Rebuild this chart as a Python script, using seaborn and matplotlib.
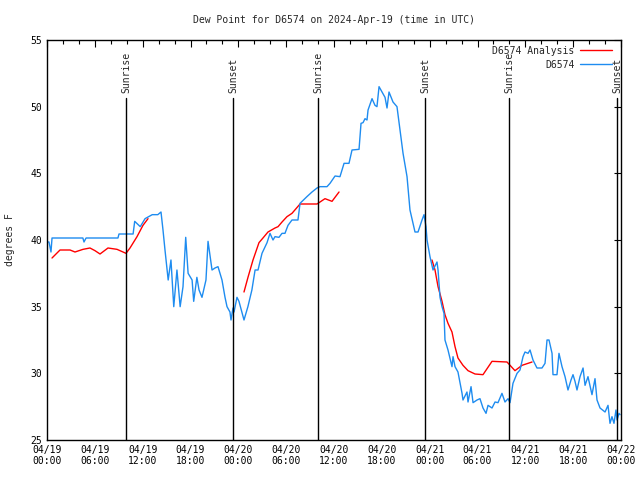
import numpy as np
import pandas as pd
import seaborn as sns
import matplotlib
matplotlib.use("Agg")
import matplotlib.pyplot as plt
import matplotlib.dates as mdates
from matplotlib.lines import Line2D

# Observed dew point (hours since 2024-04-19 00:00 UTC, degrees F)
obs_hours = [0.0, 0.25, 0.5, 0.63, 4.5, 4.64, 4.9, 8.9, 9.03, 10.8, 11.0, 11.7, 12.3, 12.9,
             13.2, 13.9, 14.3, 14.55, 14.8, 15.2, 15.55, 15.9, 16.3, 16.7, 17.06, 17.4, 17.7,
             18.2, 18.4, 18.8, 19.07, 19.44, 19.94, 20.2, 20.7, 21.07, 21.45, 21.95, 22.33,
             22.58, 22.95, 23.08, 23.33, 23.46, 23.83, 24.08, 24.71, 25.2, 25.7, 26.1, 26.47,
             26.97, 27.6, 27.97, 28.35, 28.6, 29.1, 29.48, 29.85, 30.23, 30.73, 31.48, 31.74,
             32.6, 33.24, 33.87, 34.24, 35.12, 35.5, 36.13, 36.75, 37.26, 37.88, 38.26, 39.14,
             39.39, 39.64, 39.89, 40.14, 40.27, 40.77, 41.14, 41.39, 41.65, 42.02, 42.4, 42.65,
             42.9, 43.4, 43.9, 44.28, 44.66, 45.16, 45.53, 46.16, 46.54, 47.04, 47.29, 47.54,
             47.67, 48.04, 48.42, 48.92, 49.05, 49.3, 49.55, 49.8, 49.92, 50.3, 50.8, 50.93,
             51.18, 51.55, 52.06, 52.18, 52.68, 52.81, 53.19, 53.44, 53.94, 54.31, 54.69, 55.07,
             55.32, 55.82, 56.2, 56.57, 57.07, 57.45, 57.83, 58.08, 58.45, 58.96, 59.33, 59.71,
             59.96, 60.34, 60.59, 60.96, 61.46, 62.09, 62.47, 62.72, 62.97, 63.35, 63.47, 63.97,
             64.22, 64.6, 64.98, 65.35, 65.73, 65.98, 66.23, 66.48, 66.86, 67.24, 67.49, 67.86,
             68.36, 68.74, 68.99, 69.37, 70.0, 70.37, 70.62, 70.87, 71.12, 71.37, 71.5, 71.75,
             71.88]
obs_values = [39.85, 39.85, 39.1, 40.15, 40.15, 39.85, 40.15, 40.15, 40.45, 40.45, 41.4, 41.0,
              41.6, 41.8, 41.9, 41.9, 42.1, 40.75, 39.25, 37.0, 38.5, 35.0, 37.75, 35.0, 36.5,
              40.2, 37.5, 37.0, 35.4, 37.2, 36.25, 35.7, 37.0, 39.9, 37.75, 37.9, 38.0, 37.0,
              35.7, 35.0, 34.6, 34.0, 34.9, 34.6, 35.7, 35.4, 34.0, 35.0, 36.25, 37.75, 37.75,
              39.0, 39.8, 40.5, 40.0, 40.25, 40.2, 40.5, 40.5, 41.1, 41.5, 41.5, 42.75, 43.25,
              43.6, 43.9, 44.0, 44.0, 44.25, 44.8, 44.75, 45.75, 45.75, 46.75, 46.8, 48.75,
              48.8, 49.1, 49.0, 49.75, 50.6, 50.1, 50.0, 51.5, 51.1, 50.7, 49.9, 51.1, 50.35,
              50.0, 48.25, 46.5, 44.75, 42.25, 40.6, 40.6, 41.5, 41.9, 41.0, 40.0, 38.75, 37.75,
              38.35, 37.75, 35.7, 35.0, 34.5, 32.5, 31.75, 30.5, 31.25, 30.5, 30.1, 28.5, 28.0,
              28.6, 27.85, 29.0, 27.8, 28.0, 28.1, 27.4, 27.0, 27.6, 27.4, 27.85, 27.8, 28.5,
              27.85, 28.1, 27.8, 29.25, 30.0, 30.25, 31.25, 31.6, 31.5, 31.75, 31.0, 30.4, 30.4,
              30.75, 32.5, 32.5, 31.5, 29.9, 29.9, 31.5, 30.5, 29.75, 28.75, 29.5, 29.9, 29.4,
              28.75, 29.75, 30.4, 29.1, 29.75, 28.4, 29.6, 28.0, 27.4, 27.1, 27.6, 26.25, 26.75,
              26.25, 27.25, 26.5, 27.0, 26.9]

# Analysis series, NaN marks a gap
ana_hours = [0.63, 1.63, 2.89, 3.51, 4.52, 5.39, 6.02, 6.65, 7.65, 8.78, 9.91, 10.41, 11.29,
             12.04, 12.67, 18.0,
             24.71, 25.21, 25.84, 26.59, 27.09, 27.72, 28.6, 28.98, 29.48, 30.1, 30.73, 31.74,
             33.87, 34.87, 35.75, 36.63, 42.0,
             48.29, 48.67, 49.05, 49.55, 49.92, 50.3, 50.8, 51.18, 51.55, 52.18, 52.81, 53.69,
             54.69, 55.82, 57.7, 58.7, 59.58, 60.84]
ana_values = [38.65, 39.25, 39.25, 39.1, 39.3, 39.4, 39.2, 38.95, 39.4, 39.3, 39.0, 39.4, 40.25,
              41.1, 41.6, np.nan,
              36.1, 37.2, 38.5, 39.8, 40.15, 40.6, 40.9, 41.0, 41.35, 41.75, 42.0, 42.7, 42.7,
              43.1, 42.9, 43.6, np.nan,
              38.5, 37.75, 36.5, 35.4, 34.4, 33.75, 33.1, 32.0, 31.15, 30.6, 30.2, 29.95, 29.9,
              30.9, 30.85, 30.2, 30.6, 30.85]

sun_labels = ["Sunrise", "Sunset", "Sunrise", "Sunset", "Sunrise", "Sunset"]
sun_hours = [9.95, 23.37, 34.04, 47.46, 57.99, 71.54]

start = pd.Timestamp("2024-04-19 00:00")
to_time = lambda h: start + pd.to_timedelta(np.asarray(h, dtype=float), unit="h")

obs = pd.DataFrame({"time": to_time(obs_hours), "dewpt": obs_values})
ana = pd.DataFrame({"time": to_time(ana_hours), "dewpt": ana_values})
ana["seg"] = ana["dewpt"].isna().cumsum()
ana = ana.dropna()

sns.set_style("white")
plt.rcParams["font.family"] = ["DejaVu Sans Mono"]
plt.rcParams["font.size"] = 7

blue = "#1E8CF0"
fig = plt.figure(figsize=(6.4, 4.8), dpi=100)
ax = fig.add_axes([47 / 640, 40 / 480, 574 / 640, 400 / 480])

sns.lineplot(data=ana, x="time", y="dewpt", units="seg", estimator=None,
             color="red", lw=1.0, ax=ax)
sns.lineplot(data=obs, x="time", y="dewpt", color=blue, lw=1.0, ax=ax)

for lab, h in zip(sun_labels, sun_hours):
    t = to_time([h])[0]
    ax.axvline(t, ymin=0, ymax=0.855, color="black", lw=1.0)
    ax.text(t, 0.868, lab, rotation=90, ha="center", va="bottom",
            transform=ax.get_xaxis_transform(), fontsize=7)

ax.set_xlim(start, start + pd.Timedelta(hours=72))
ax.set_ylim(25, 55)
ax.set_yticks(range(25, 56, 5))
ax.xaxis.set_major_locator(mdates.HourLocator(byhour=[0, 6, 12, 18]))
ax.xaxis.set_minor_locator(mdates.HourLocator(interval=2))
ax.xaxis.set_major_formatter(mdates.DateFormatter("%m/%d\n%H:%M"))
ax.tick_params(which="both", direction="in", top=True, right=True, labelsize=7, colors="black")
ax.tick_params(which="major", length=5, width=0.8)
ax.tick_params(which="minor", length=3, width=0.8)
for s in ax.spines.values():
    s.set_color("black")
    s.set_linewidth(1.0)

ax.set_xlabel("")
ax.set_ylabel("degrees F", fontsize=7)
ax.yaxis.set_label_coords(-0.055, 0.5)
ax.set_title("Dew Point for D6574 on 2024-Apr-19 (time in UTC)", fontsize=7, pad=12)

handles = [Line2D([], [], color="red", lw=1.0), Line2D([], [], color=blue, lw=1.0)]
ax.legend(handles, ["D6574 Analysis", "D6574"], loc="upper right", frameon=False,
          markerfirst=False, fontsize=7, handlelength=3.3, handletextpad=0.6,
          borderaxespad=0.2, labelspacing=0.4, bbox_to_anchor=(0.995, 1.0))

fig.savefig("out.png", dpi=100)
